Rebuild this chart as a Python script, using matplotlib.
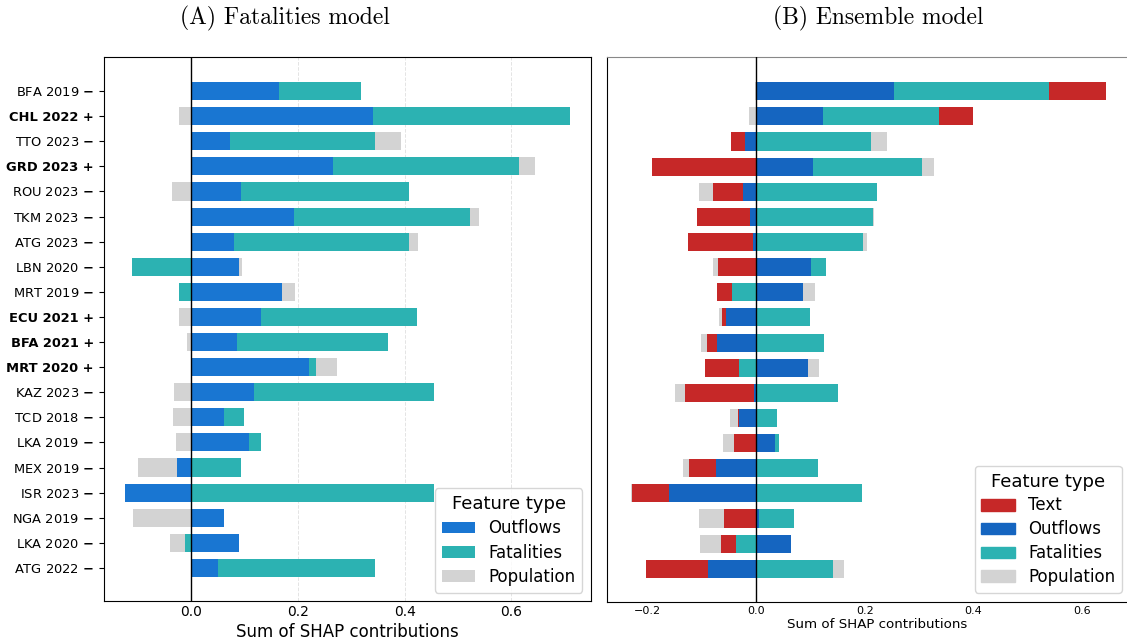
import numpy as np
import matplotlib.pyplot as plt
from matplotlib.patches import Patch

# rows, top to bottom
countries = ["BFA 2019", "CHL 2022", "TTO 2023", "GRD 2023", "ROU 2023", "TKM 2023",
             "ATG 2023", "LBN 2020", "MRT 2019", "ECU 2021", "BFA 2021", "MRT 2020",
             "KAZ 2023", "TCD 2018", "LKA 2019", "MEX 2019", "ISR 2023", "NGA 2019",
             "LKA 2020", "ATG 2022"]
signs = ["-", "+", "-", "+", "-", "-", "-", "-", "-", "+", "+", "+",
         "-", "-", "-", "-", "-", "-", "-", "-"]

# (A) fatalities model
fat_outflows = [0.165, 0.340, 0.073, 0.266, 0.094, 0.193, 0.081, 0.090, 0.171, 0.131,
                0.086, 0.220, 0.118, 0.061, 0.109, -0.027, -0.125, 0.061, 0.090, 0.050]
fat_fatalities = [0.153, 0.371, 0.271, 0.348, 0.314, 0.330, 0.328, -0.112, -0.023, 0.292,
                  0.282, 0.013, 0.337, 0.038, 0.022, 0.094, 0.455, 0.0, -0.012, 0.295]
fat_population = [0.0, -0.023, 0.049, 0.030, -0.037, 0.017, 0.017, 0.005, 0.024, -0.023,
                  -0.008, 0.040, -0.032, -0.035, -0.029, -0.072, 0.0, -0.109, -0.028, 0.0]

# (B) ensemble model
ens_text = [0.105, 0.063, -0.025, -0.192, -0.055, -0.097, -0.120, -0.071, -0.028, -0.009,
            -0.018, -0.063, -0.127, -0.001, -0.041, -0.050, -0.068, -0.060, -0.028, -0.115]
ens_outflows = [0.254, 0.123, -0.021, 0.105, -0.025, -0.012, -0.006, 0.101, 0.086, -0.055,
                -0.073, 0.096, -0.005, -0.032, 0.035, -0.074, -0.161, 0.005, 0.064, -0.088]
ens_fatalities = [0.286, 0.213, 0.211, 0.201, 0.223, 0.215, 0.197, 0.027, -0.045, 0.099,
                  0.125, -0.032, 0.151, 0.038, 0.007, 0.114, 0.195, 0.064, -0.037, 0.141]
ens_population = [-0.002, -0.014, 0.030, 0.022, -0.025, 0.002, 0.007, -0.009, 0.022, -0.004,
                  -0.011, 0.019, -0.017, -0.015, -0.020, -0.011, -0.002, -0.046, -0.038, 0.020]

C_TEXT = "#C62828"
C_OUT_A = "#1976D2"
C_OUT_B = "#1565C0"
C_FAT = "#2CB2B2"
C_POP = "#D3D3D3"


def stacked(ax, series, colors, labels):
    y = np.arange(len(countries))
    pos = np.zeros(len(y))
    neg = np.zeros(len(y))
    for vals, col, lab in zip(series, colors, labels):
        v = np.array(vals)
        left = np.where(v >= 0, pos, neg)
        ax.barh(y, v, left=left, height=0.72, color=col, label=lab)
        pos += np.where(v >= 0, v, 0)
        neg += np.where(v < 0, v, 0)
    ax.axvline(0, color="black", lw=1, zorder=3)
    ax.set_ylim(len(y) - 1 + 1.32, -1.36)
    ax.tick_params(axis="x", length=0, pad=3)
    return y


fig = plt.figure(figsize=(11.27, 6.42), dpi=100)
axA = fig.add_axes([103.5 / 1127, 1 - 601 / 642, 487 / 1127, 544 / 642])
axB = fig.add_axes([607 / 1127, 1 - 602 / 642, 540 / 1127, 545 / 642])

y = stacked(axA, [fat_outflows, fat_fatalities, fat_population],
            [C_OUT_A, C_FAT, C_POP], ["Outflows", "Fatalities", "Population"])
axA.grid(axis="x", ls="--", color="#dddddd", lw=0.7, alpha=0.8)
axA.set_axisbelow(True)
axA.set_xlim(-0.1645, 0.7486)
axA.set_xticks([0.0, 0.2, 0.4, 0.6])
axA.tick_params(axis="x", labelsize=10)
axA.set_yticks(y)
labels = [f"{c} +" if s == "+" else f"{c} " + r"$\mathbf{-}$" for c, s in zip(countries, signs)]
axA.set_yticklabels(labels, fontsize=9.4)
for lab, s in zip(axA.get_yticklabels(), signs):
    if s == "+":
        lab.set_fontweight("bold")
axA.set_xlabel("Sum of SHAP contributions", fontsize=12, labelpad=3)
axA.legend(title="Feature type", loc="lower right", fontsize=12, title_fontsize=13,
           labelspacing=0.38)
fig.text(285 / 1127, 1 - 18 / 642, "(A) Fatalities model", fontfamily="cmr10",
         fontsize=17, ha="center", va="center")

stacked(axB, [ens_outflows, ens_fatalities, ens_text, ens_population],
        [C_OUT_B, C_FAT, C_TEXT, C_POP], ["Outflows", "Fatalities", "Text", "Population"])
axB.set_xlim(-0.275, 0.72)
axB.set_xticks([-0.2, 0.0, 0.2, 0.4, 0.6])
axB.tick_params(axis="x", labelsize=8)
axB.set_yticks([])
axB.spines["top"].set_color("#888888")
axB.set_xlabel("Sum of SHAP contributions", fontsize=9.6, labelpad=1)
handles = [Patch(color=C_TEXT, label="Text"), Patch(color=C_OUT_B, label="Outflows"),
           Patch(color=C_FAT, label="Fatalities"), Patch(color=C_POP, label="Population")]
axB.legend(handles=handles, title="Feature type", loc="lower right", fontsize=12,
           title_fontsize=13, labelspacing=0.35, bbox_to_anchor=(1130 / 1127, 41 / 642),
           bbox_transform=fig.transFigure)
fig.text(878 / 1127, 1 - 18 / 642, "(B) Ensemble model", fontfamily="cmr10",
         fontsize=17, ha="center", va="center")

fig.savefig("out.png", dpi=100)
